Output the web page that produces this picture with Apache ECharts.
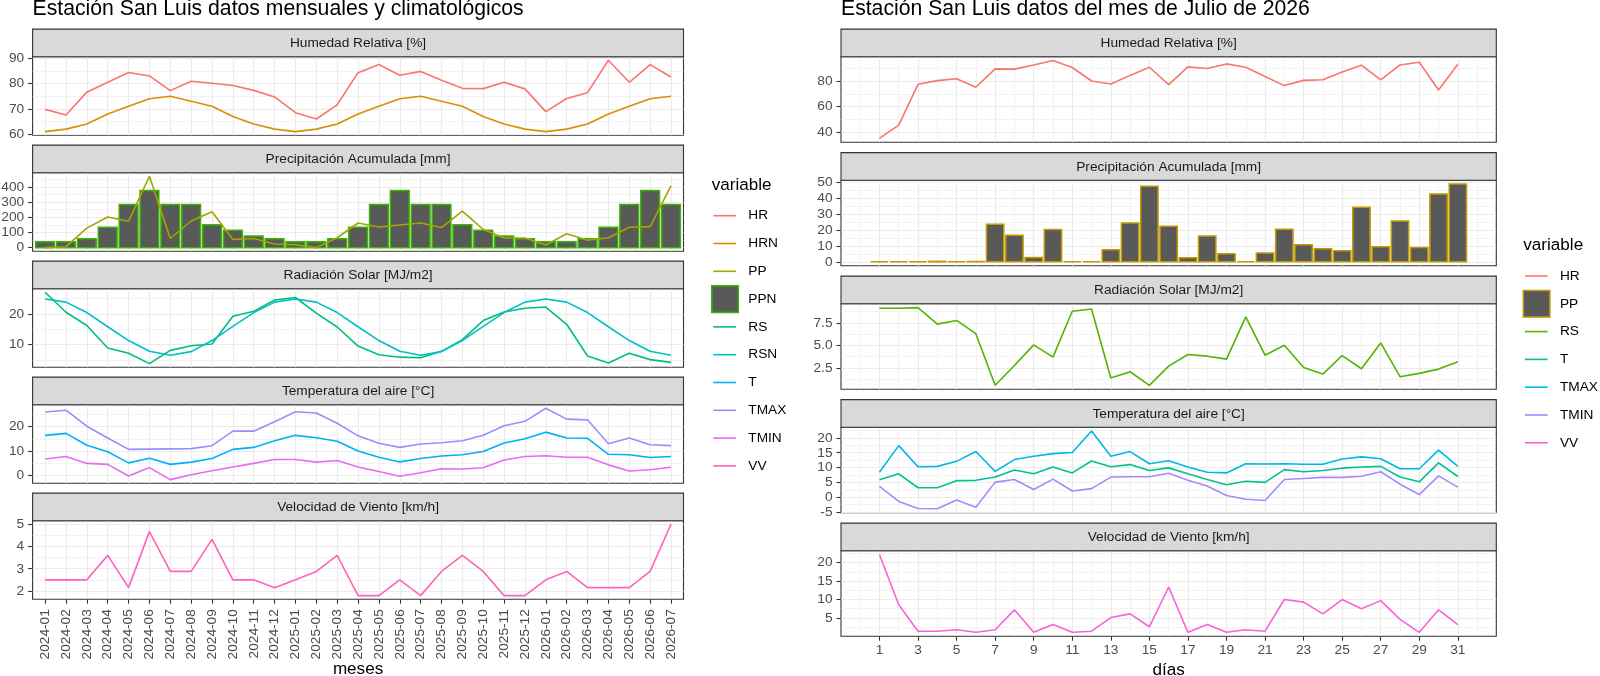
<!DOCTYPE html>
<html>
<head>
<meta charset="utf-8">
<title>Estación San Luis</title>
<script src="https://cdn.jsdelivr.net/npm/echarts@6/dist/echarts.min.js"></script>
<style>
html, body { margin: 0; padding: 0; background: #fff; }
#chart { width: 1600px; height: 676px; }
</style>
</head>
<body>
<div id="chart"></div>
<script>
/* ===================== datos mensuales (2024-01 .. 2026-07) ===================== */
var meses = ['2024-01','2024-02','2024-03','2024-04','2024-05','2024-06','2024-07','2024-08','2024-09','2024-10','2024-11','2024-12',
             '2025-01','2025-02','2025-03','2025-04','2025-05','2025-06','2025-07','2025-08','2025-09','2025-10','2025-11','2025-12',
             '2026-01','2026-02','2026-03','2026-04','2026-05','2026-06','2026-07'];
var hrMes   = [69.8, 67.6, 76.6, 80.5, 84.4, 83.0, 77.2, 80.9, 80.1, 79.2, 77.3, 74.7, 68.5, 66.0, 71.6, 84.3, 87.5, 83.3, 84.8, 81.3, 78.1, 78.0, 80.5, 77.9, 68.9, 74.1, 76.4, 89.2, 80.5, 87.5, 82.6];
var hrnMes  = [61, 62, 64, 68, 71, 74, 75, 73, 71, 67, 64, 62, 61, 62, 64, 68, 71, 74, 75, 73, 71, 67, 64, 62, 61, 62, 64, 68, 71, 74, 75];
var ppMes   = [0, 6, 128, 201, 173, 469, 60, 175, 236, 54, 60, 24, 19, 0, 65, 162, 136, 149, 162, 132, 240, 119, 63, 63, 17, 91, 48, 65, 134, 138, 406];
var ppnMes  = [39, 39, 58, 134, 283, 376, 283, 283, 151, 115, 76, 58, 39, 39, 58, 134, 283, 376, 283, 283, 151, 115, 76, 58, 39, 39, 58, 134, 283, 376, 283];
var rsMes   = [27.0, 20.5, 16.2, 8.9, 7.2, 3.8, 8.1, 9.6, 10.2, 19.2, 20.8, 24.5, 25.3, 20.2, 15.7, 9.5, 6.7, 5.9, 5.7, 7.8, 11.6, 17.8, 20.6, 21.8, 22.2, 16.6, 6.3, 4.0, 7.2, 5.1, 4.2];
var rsnMes  = [24.8, 23.8, 20.4, 15.8, 11.3, 7.8, 6.5, 7.7, 11.3, 15.9, 20.4, 23.8, 24.8, 23.8, 20.4, 15.8, 11.3, 7.8, 6.5, 7.7, 11.3, 15.9, 20.4, 23.8, 24.8, 23.8, 20.4, 15.8, 11.3, 7.8, 6.5];
var tMes    = [16.4, 17.2, 12.4, 9.7, 5.2, 7.1, 4.6, 5.5, 7.0, 10.7, 11.5, 14.2, 16.4, 15.4, 14.0, 10.0, 7.5, 5.6, 7.0, 8.0, 8.5, 9.8, 13.3, 15.0, 17.7, 15.3, 15.2, 8.7, 8.5, 7.4, 7.8];
var tmaxMes = [25.9, 26.6, 20.1, 15.3, 10.7, 10.8, 10.9, 11.0, 12.2, 18.1, 18.1, 21.9, 26.0, 25.5, 21.3, 16.2, 13.2, 11.5, 12.9, 13.4, 14.2, 16.4, 20.3, 22.1, 27.4, 23.0, 22.7, 13.0, 15.3, 12.6, 12.2];
var tminMes = [6.8, 7.8, 5.0, 4.6, -0.1, 3.3, -1.6, 0.4, 2.0, 3.5, 5.0, 6.6, 6.6, 5.5, 6.2, 3.5, 1.7, -0.2, 1.2, 2.8, 2.7, 3.2, 6.4, 7.8, 8.1, 7.5, 7.5, 4.4, 1.9, 2.4, 3.4];
var vvMes   = [2.5, 2.5, 2.5, 3.6, 2.15, 4.67, 2.88, 2.88, 4.32, 2.5, 2.5, 2.15, 2.5, 2.88, 3.6, 1.79, 1.79, 2.5, 1.79, 2.88, 3.6, 2.88, 1.79, 1.79, 2.5, 2.88, 2.15, 2.15, 2.15, 2.88, 5.0];

var hrMesTicks = ['60', '70', '80', '90'];
var ppMesTicks = ['0', '100', '200', '300', '400'];
var rsMesTicks = ['10', '20'];
var tMesTicks  = ['0', '10', '20'];
var vvMesTicks = ['2', '3', '4', '5'];

/* ===================== datos diarios (julio 2026) ===================== */
var dias    = [1, 2, 3, 4, 5, 6, 7, 8, 9, 10, 11, 12, 13, 14, 15, 16, 17, 18, 19, 20, 21, 22, 23, 24, 25, 26, 27, 28, 29, 30, 31];
var hrDia   = [35.1, 45.4, 77.4, 80.3, 81.8, 75.1, 89.5, 89.3, 92.6, 96.0, 90.6, 80.0, 77.7, 84.4, 90.8, 77.2, 91.1, 89.8, 93.4, 90.8, 83.6, 76.4, 80.5, 81.0, 87.0, 92.4, 80.8, 92.6, 94.7, 73.0, 93.2];
var ppDia   = [0, 0, 0, 0.3, 0, 0.2, 23.6, 16.6, 2.7, 20.3, 0, 0, 7.6, 24.4, 47.5, 22.3, 2.5, 16.2, 5.1, 0, 5.5, 20.5, 10.7, 8.2, 7.0, 34.2, 9.4, 25.6, 9.0, 42.6, 48.8];
var rsDia   = [9.12, 9.12, 9.19, 7.35, 7.76, 6.29, 0.55, 2.76, 5.04, 3.68, 8.79, 9.04, 1.36, 2.06, 0.55, 2.68, 3.97, 3.79, 3.46, 8.16, 3.90, 5.00, 2.54, 1.80, 3.86, 2.39, 5.26, 1.51, 1.88, 2.35, 3.16];
var tDia    = [5.9, 7.9, 3.2, 3.2, 5.6, 5.7, 6.8, 9.2, 7.9, 10.2, 8.2, 12.2, 10.3, 11.0, 9.0, 9.9, 7.9, 6.0, 4.2, 5.4, 5.0, 9.3, 8.6, 9.0, 9.8, 10.2, 10.4, 6.8, 5.2, 11.6, 7.0];
var tmaxDia = [8.4, 17.4, 10.3, 10.4, 12.1, 15.4, 8.7, 12.7, 13.8, 14.7, 15.1, 22.3, 13.8, 15.4, 11.3, 12.3, 10.2, 8.4, 8.2, 11.3, 11.2, 11.3, 11.1, 11.1, 12.9, 13.6, 13.0, 9.6, 9.6, 15.9, 10.4];
var tminDia = [3.7, -1.4, -3.8, -3.9, -0.9, -3.4, 5.1, 6.0, 2.6, 6.1, 2.1, 2.9, 6.8, 6.9, 6.9, 8.1, 5.7, 3.8, 0.6, -0.7, -1.1, 6.0, 6.3, 6.7, 6.7, 7.1, 8.6, 4.4, 0.9, 7.2, 3.4];
var vvDia   = [22.2, 8.6, 1.4, 1.4, 1.8, 1.1, 1.8, 7.2, 1.1, 3.2, 1.1, 1.4, 5.1, 6.1, 2.6, 13.4, 1.1, 3.2, 1.1, 1.8, 1.4, 10.0, 9.3, 6.1, 10.0, 7.5, 9.7, 4.6, 1.1, 7.2, 3.2];

var hrDiaTicks = ['40', '60', '80'];
var ppDiaTicks = ['0', '10', '20', '30', '40', '50'];
var rsDiaTicks = ['2.5', '5.0', '7.5'];
var tDiaTicks  = ['-5', '0', '5', '10', '15', '20'];
var vvDiaTicks = ['5', '10', '15', '20'];
var diaTicks   = ['1', '3', '5', '7', '9', '11', '13', '15', '17', '19', '21', '23', '25', '27', '29', '31'];

/* ===================== estilo ===================== */
var FONT = '"Liberation Sans", Arial, Helvetica, sans-serif';
var F_TEXTO = 13.7, F_TITULO_EJE = 17.1, F_TITULO = 21.2;
var COLOR_BORDE = '#333333';
var LINEA_MAYOR = { color: '#EBEBEB', width: 1.2 };
var LINEA_MENOR = { color: '#EBEBEB', width: 0.6 };
var ALTO_TIRA = 27.6;

// ggplot: expande el rango 5% por lado
function rango(listas) {
	var todos = [].concat.apply([], listas);
	var mn = Math.min.apply(null, todos), mx = Math.max.apply(null, todos);
	var pad = (mx - mn) * 0.05;
	return [mn - pad, mx + pad];
}
function menores(ticks, lim) {
	var paso = ticks[1] - ticks[0], out = [];
	for (var k = -1; k < ticks.length; k++) {
		var v = +(ticks[0] + (k + 0.5) * paso).toFixed(6);
		if (v > lim[0] && v < lim[1]) out.push(v);
	}
	return out;
}
function num(lst) { return lst.map(parseFloat); }

var ladoMes = {
	left: 32.6, width: 650.9, tops: [56.7, 172.7, 288.7, 404.7, 520.7], h: 78.5,
	xs: meses.map(function (m, i) { return i + 1; }),
	xlim: [0.4, meses.length + 0.6],
	xMayor: meses.map(function (m, i) { return i + 1; }),
	xMenor: null,
	xFormato: function (v) { return meses[Math.round(v) - 1]; },
	rotar: 90, margen: 10, nombre: 'meses', gapNombre: 70
};
var ladoDia = {
	left: 841, width: 655.3, tops: [56.7, 180.2, 303.7, 427.2, 550.7], h: 85.5,
	xs: dias,
	xlim: rango([[dias[0] - 0.45, dias[dias.length - 1] + 0.45]]),
	xMayor: num(diaTicks),
	xMenor: dias.filter(function (d) { return d % 2 === 0; }).concat([0, 32]),
	xFormato: function (v) { return String(v); },
	rotar: 0, margen: 7, nombre: 'días', gapNombre: 34
};

var panelesMes = [
	{ tira: 'Humedad Relativa [%]', ticks: hrMesTicks, lineas: [{ name: 'HR', y: hrMes, color: '#F8766D' }, { name: 'HRN', y: hrnMes, color: '#D89000' }] },
	{ tira: 'Precipitación Acumulada [mm]', ticks: ppMesTicks, barras: { name: 'PPN', y: ppnMes, color: '#39B600' }, lineas: [{ name: 'PP', y: ppMes, color: '#A3A500' }] },
	{ tira: 'Radiación Solar [MJ/m2]', ticks: rsMesTicks, lineas: [{ name: 'RS', y: rsMes, color: '#00BF7D' }, { name: 'RSN', y: rsnMes, color: '#00BFC4' }] },
	{ tira: 'Temperatura del aire [°C]', ticks: tMesTicks, lineas: [{ name: 'T', y: tMes, color: '#00B0F6' }, { name: 'TMAX', y: tmaxMes, color: '#9590FF' }, { name: 'TMIN', y: tminMes, color: '#E76BF3' }] },
	{ tira: 'Velocidad de Viento [km/h]', ticks: vvMesTicks, lineas: [{ name: 'VV', y: vvMes, color: '#FF62BC' }] }
];
var panelesDia = [
	{ tira: 'Humedad Relativa [%]', ticks: hrDiaTicks, lineas: [{ name: 'HR', y: hrDia, color: '#F8766D' }] },
	{ tira: 'Precipitación Acumulada [mm]', ticks: ppDiaTicks, barras: { name: 'PP', y: ppDia, color: '#C49A00' }, lineas: [] },
	{ tira: 'Radiación Solar [MJ/m2]', ticks: rsDiaTicks, lineas: [{ name: 'RS', y: rsDia, color: '#53B400' }] },
	{ tira: 'Temperatura del aire [°C]', ticks: tDiaTicks, lineas: [{ name: 'T', y: tDia, color: '#00C094' }, { name: 'TMAX', y: tmaxDia, color: '#00B6EB' }, { name: 'TMIN', y: tminDia, color: '#A58AFF' }] },
	{ tira: 'Velocidad de Viento [km/h]', ticks: vvDiaTicks, lineas: [{ name: 'VV', y: vvDia, color: '#FB61D7' }] }
];

/* ===================== armado ===================== */
var grids = [], xAxes = [], yAxes = [], series = [], graficos = [];

function texto(x, y, t, size, color, align) {
	graficos.push({ type: 'text', z: 10, style: { x: x, y: y, text: t, fontSize: size, fontFamily: FONT, fill: color || '#000', align: align || 'left', verticalAlign: 'middle' } });
}

function armarLado(lado, paneles) {
	paneles.forEach(function (p, fila) {
		var top = lado.tops[fila], abajo = fila === paneles.length - 1;
		var g = grids.length;
		grids.push({ left: lado.left, top: top, width: lado.width, height: lado.h, show: true, backgroundColor: '#fff',
			borderColor: COLOR_BORDE, borderWidth: 1.1, containLabel: false, outerBoundsMode: 'none' });

		// eje x (mayor y, si hay, menor)
		var xi = xAxes.length;
		xAxes.push({
			gridIndex: g, type: 'value', min: lado.xlim[0], max: lado.xlim[1], position: 'bottom',
			axisLine: { show: false, onZero: false },
			axisTick: { show: abajo, length: 4.5, lineStyle: { color: COLOR_BORDE, width: 1.1 }, customValues: lado.xMayor },
			axisLabel: { show: abajo, customValues: lado.xMayor, formatter: lado.xFormato, rotate: lado.rotar, margin: lado.margen,
				color: '#4D4D4D', fontSize: F_TEXTO, fontFamily: FONT, hideOverlap: false },
			splitLine: { show: true, lineStyle: LINEA_MAYOR },
			name: abajo ? lado.nombre : '', nameLocation: 'middle', nameGap: lado.gapNombre, nameMoveOverlap: false,
			nameTextStyle: { fontSize: F_TITULO_EJE, fontFamily: FONT, color: '#000', verticalAlign: 'middle' }
		});
		if (lado.xMenor) {
			xAxes.push({
				gridIndex: g, type: 'value', min: lado.xlim[0], max: lado.xlim[1], position: 'top',
				axisLine: { show: false, onZero: false }, axisTick: { show: false, customValues: lado.xMenor },
				axisLabel: { show: false, customValues: lado.xMenor }, splitLine: { show: true, lineStyle: LINEA_MENOR }
			});
		}

		// eje y
		var listas = p.lineas.map(function (l) { return l.y; });
		if (p.barras) listas.push(p.barras.y, [0]);
		var lim = rango(listas);
		var tv = num(p.ticks);
		var yi = yAxes.length;
		yAxes.push({
			gridIndex: g, type: 'value', min: lim[0], max: lim[1], position: 'left',
			axisLine: { show: false, onZero: false },
			axisTick: { show: true, length: 4.5, lineStyle: { color: COLOR_BORDE, width: 1.1 }, customValues: tv },
			axisLabel: { customValues: tv, margin: 8.5, color: '#4D4D4D', fontSize: F_TEXTO, fontFamily: FONT,
				formatter: function (v) {
					for (var k = 0; k < tv.length; k++) if (Math.abs(tv[k] - v) < 1e-6) return p.ticks[k];
					return '';
				} },
			splitLine: { show: true, lineStyle: LINEA_MAYOR }
		});
		var mn = menores(tv, lim);
		yAxes.push({
			gridIndex: g, type: 'value', min: lim[0], max: lim[1], position: 'right',
			axisLine: { show: false, onZero: false }, axisTick: { show: false, customValues: mn },
			axisLabel: { show: false, customValues: mn }, splitLine: { show: true, lineStyle: LINEA_MENOR }
		});

		// barras (rectángulos de ancho 0.9 en unidades del eje)
		if (p.barras) {
			var b = p.barras;
			series.push({
				name: b.name, type: 'custom', xAxisIndex: xi, yAxisIndex: yi, z: 2,
				data: lado.xs.map(function (x, k) { return [x, b.y[k]]; }),
				encode: { x: 0, y: 1 },
				renderItem: function (params, api) {
					var x = api.value(0), y = api.value(1);
					var p0 = api.coord([x - 0.45, y]), p1 = api.coord([x + 0.45, 0]);
					return { type: 'rect', shape: { x: p0[0], y: p0[1], width: p1[0] - p0[0], height: p1[1] - p0[1] },
						style: { fill: '#595959', stroke: b.color, lineWidth: 1.5 } };
				}
			});
		}
		p.lineas.forEach(function (l) {
			series.push({
				name: l.name, type: 'line', xAxisIndex: xi, yAxisIndex: yi, z: 3,
				data: lado.xs.map(function (x, k) { return [x, l.y[k]]; }),
				symbol: 'none', showSymbol: false, color: l.color,
				lineStyle: { color: l.color, width: 1.6 }
			});
		});

		// tira del facet
		graficos.push({ type: 'rect', z: 5, shape: { x: lado.left, y: top - ALTO_TIRA, width: lado.width, height: ALTO_TIRA },
			style: { fill: '#D9D9D9', stroke: COLOR_BORDE, lineWidth: 1.1 } });
		texto(lado.left + lado.width / 2, top - ALTO_TIRA / 2 + 0.5, p.tira, F_TEXTO, '#1A1A1A', 'center');
	});
}

function leyenda(x, yTitulo, y0, items, barra) {
	texto(x, yTitulo, 'variable', F_TITULO_EJE, '#000');
	items.forEach(function (it, k) {
		var y = y0 + k * 27.8;
		if (it.name === barra.name) {
			graficos.push({ type: 'rect', z: 10, shape: { x: x, y: y - 13.3, width: 26.6, height: 26.6 },
				style: { fill: '#595959', stroke: barra.color, lineWidth: 1.5 } });
		} else {
			graficos.push({ type: 'line', z: 10, shape: { x1: x + 1.6, y1: y, x2: x + 24.3, y2: y },
				style: { stroke: it.color, lineWidth: 1.6 } });
		}
		texto(x + 36.6, y, it.name, F_TEXTO, '#000');
	});
}

armarLado(ladoMes, panelesMes);
armarLado(ladoDia, panelesDia);

function itemsDe(paneles) {
	var out = [];
	paneles.forEach(function (p) {
		if (p.barras) out.push({ name: p.barras.name, color: p.barras.color });
		p.lineas.forEach(function (l) { out.push({ name: l.name, color: l.color }); });
	});
	return out.sort(function (a, b) { return a.name < b.name ? -1 : 1; });
}
leyenda(711.7, 185, 215.7, itemsDe(panelesMes), panelesMes[1].barras);
leyenda(1523.3, 245, 276, itemsDe(panelesDia), panelesDia[1].barras);

texto(ladoMes.left, 9, 'Estación San Luis datos mensuales y climatológicos', F_TITULO, '#000');
texto(ladoDia.left, 9, 'Estación San Luis datos del mes de Julio de 2026', F_TITULO, '#000');

var myChart = echarts.init(document.getElementById('chart'), null, { renderer: 'canvas' });
myChart.setOption({
	animation: false,
	backgroundColor: '#fff',
	grid: grids,
	xAxis: xAxes,
	yAxis: yAxes,
	series: series,
	graphic: { elements: graficos }
});
</script>
</body>
</html>
